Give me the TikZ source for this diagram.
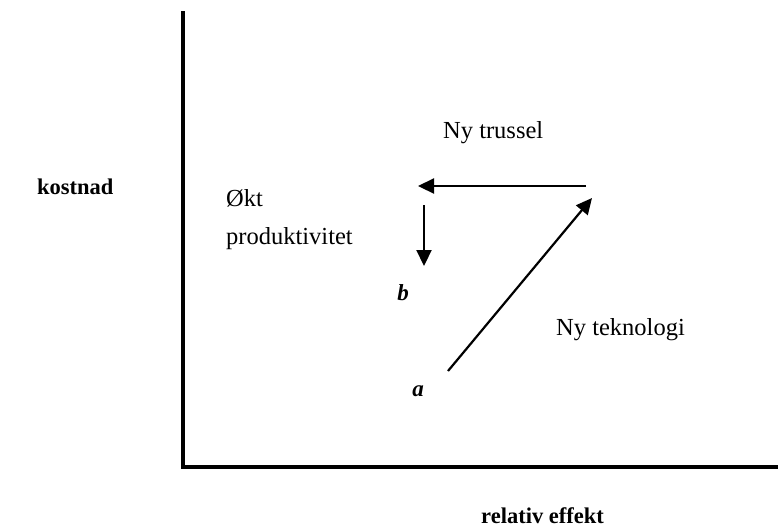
\documentclass[tikz,border=0pt]{standalone}
\usepackage{fontspec}
\setmainfont{Liberation Serif}
\usetikzlibrary{arrows.meta}
\begin{document}
\begin{tikzpicture}[x=1pt,y=-1pt,
  axisline/.style={line width=4pt},
  flow/.style={line width=2.2pt,-{Triangle[length=16pt,width=15pt]}},
  lbl/.style={inner sep=0pt,font=\fontsize{24.5}{38}\selectfont},
  blbl/.style={inner sep=0pt,font=\fontsize{22.5}{27}\selectfont\bfseries},
  ilbl/.style={inner sep=0pt,font=\fontsize{23}{27}\selectfont\bfseries\itshape}]
\useasboundingbox (0,0) rectangle (778,531);
\coordinate (top) at (183,11);
\coordinate (origin) at (183,467);
\coordinate (right) at (778,467);
\draw[axisline] (top) -- (origin) -- (right);
\coordinate (h1) at (586,186);
\coordinate (h2) at (418,186);
\coordinate (v1) at (424,205);
\coordinate (v2) at (424,266);
\coordinate (d1) at (448,371);
\coordinate (d2) at (592,198);
\draw[flow] (h1) -- (h2);
\draw[flow] (v1) -- (v2);
\draw[flow] (d1) -- (d2);
\node[blbl,anchor=west] (kost) at (37,187) {kostnad};
\node[lbl,anchor=west] (trus) at (443,133) {Ny trussel};
\node[lbl,anchor=north west,align=left] (okt) at (226,189) {Økt\\produktivitet};
\node[ilbl] (b) at (403,293) {b};
\node[ilbl] (a) at (418,391) {a};
\node[lbl,anchor=west] (tek) at (556,330) {Ny teknologi};
\node[blbl,anchor=west] (rel) at (481,516) {relativ effekt};
\end{tikzpicture}
\end{document}
